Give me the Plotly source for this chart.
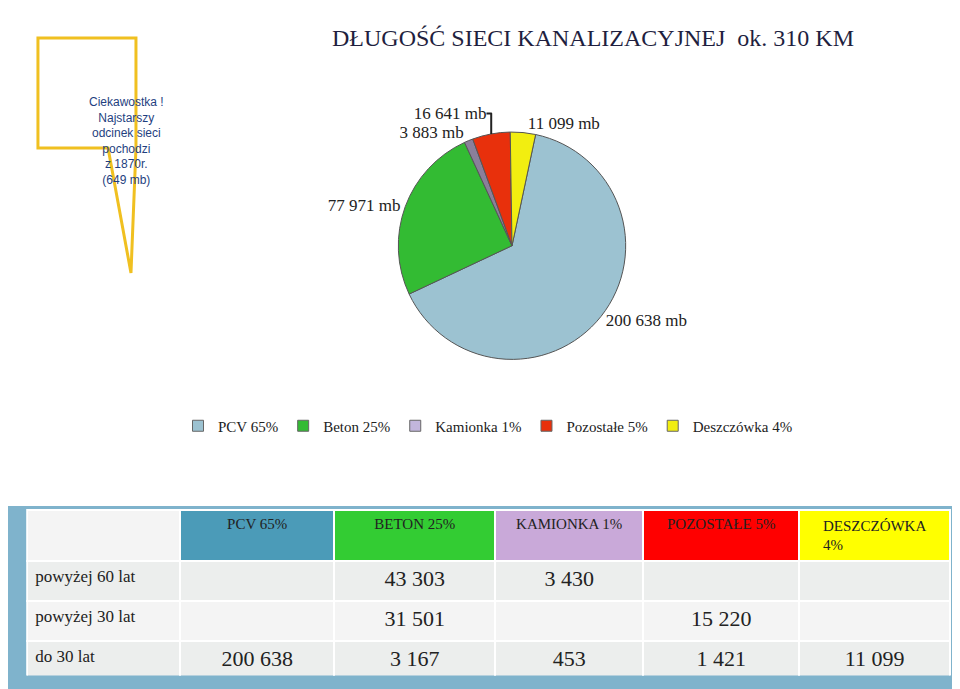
import plotly.graph_objects as go

W, H = 960, 689
pie_labels = ["PCV 65%", "Beton 25%", "Kamionka 1%", "Pozostałe 5%", "Deszczówka 4%"]
pie_values = [200638, 77971, 3883, 16641, 11099]
pie_text = ["200 638 mb", "77 971 mb", "3 883 mb", "16 641 mb", "11 099 mb"]
pie_colors = ["#9cc2d1", "#33bb33", "#8a7f9a", "#e8300c", "#f2ee10"]
legend_colors = ["#9cc2d1", "#33bb33", "#c2b6dc", "#e8300c", "#f2ee10"]

tbl_header = ["", "PCV 65%", "BETON 25%", "KAMIONKA 1%", "POZOSTAŁE 5%", "DESZCZÓWKA<br>4%"]
tbl_header_colors = ["#f4f4f4", "#4b9bb8", "#33cc33", "#c9a9d9", "#ff0000", "#ffff00"]
row_names = ["powyżej 60 lat", "powyżej 30 lat", "do 30 lat"]
col_pcv = ["", "", "200 638"]
col_beton = ["43 303", "31 501", "3 167"]
col_kam = ["3 430", "", "453"]
col_poz = ["", "15 220", "1 421"]
col_desz = ["", "", "11 099"]

def px(x, y):
    return x / W, 1 - y / H

fig = go.Figure()
fig.add_trace(go.Pie(
    labels=pie_labels, values=pie_values, text=pie_text, textinfo="text",
    textposition="outside", sort=False, direction="clockwise", rotation=12,
    marker=dict(colors=pie_colors, line=dict(color="#555", width=1)),
    textfont=dict(family="Liberation Serif", size=17, color="#222"),
    domain=dict(x=[0.2, 0.85], y=[0.49, 0.82]), showlegend=False,
))
for lab, col in zip(pie_labels, legend_colors):
    fig.add_trace(go.Scatter(x=[None], y=[None], mode="markers", name=lab,
                             marker=dict(symbol="square", size=11, color=col,
                                         line=dict(color="#666", width=1))))

fig.add_trace(go.Table(
    domain=dict(x=[0.02, 0.982], y=[0.03, 0.272]),
    columnwidth=[152, 153, 160, 147, 155, 150],
    header=dict(values=tbl_header, fill_color=tbl_header_colors,
                line=dict(color="white", width=2), height=48, align="center",
                font=dict(family="Liberation Serif", size=15, color="#222")),
    cells=dict(values=[row_names, col_pcv, col_beton, col_kam, col_poz, col_desz],
               fill_color=[["#eceeed", "#f4f4f4", "#eceeed"]] * 6,
               line=dict(color="white", width=2), height=40,
               align=["left"] + ["center"] * 5,
               font=dict(family="Liberation Serif", size=[17, 22, 22, 22, 22, 22], color="#222")),
))

x0, y1 = px(0, 498)
x1, y0 = px(960, 689)
shapes = [dict(type="rect", xref="paper", yref="paper", x0=x0, y0=y0, x1=x1, y1=y1,
               fillcolor="#7fb3cc", line=dict(width=0), layer="below")]
pts = [(30, 30), (128, 30), (128, 140), (123, 265), (100, 140), (30, 140)]
path = "M " + " L ".join(f"{px(a,b)[0]:.4f},{px(a,b)[1]:.4f}" for a, b in pts) + " Z"
shapes.append(dict(type="path", xref="paper", yref="paper", path=path,
                   fillcolor="white", line=dict(color="#f0c020", width=3)))

fig.update_layout(
    width=W, height=H, margin=dict(l=0, r=0, t=0, b=0, autoexpand=False),
    paper_bgcolor="white", plot_bgcolor="white",
    xaxis=dict(visible=False), yaxis=dict(visible=False),
    shapes=shapes,
    legend=dict(orientation="h", x=0.5, xanchor="center", y=1 - 418 / H, yanchor="middle",
                font=dict(family="Liberation Serif", size=15, color="#222")),
    annotations=[
        dict(text="DŁUGOŚĆ SIECI KANALIZACYJNEJ  ok. 310 KM", x=px(585, 15)[0], y=px(585, 15)[1],
             xref="paper", yref="paper", showarrow=False,
             font=dict(family="Liberation Serif", size=24, color="#1f1f3f")),
        dict(text="Ciekawostka !<br>Najstarszy<br>odcinek sieci<br>pochodzi<br>z 1870r.<br>(649 mb)",
             x=px(79, 85)[0], y=px(79, 85)[1], xref="paper", yref="paper", showarrow=False,
             font=dict(family="Liberation Sans", size=12, color="#1f3f7f")),
    ],
)
fig.write_html("out.html")
